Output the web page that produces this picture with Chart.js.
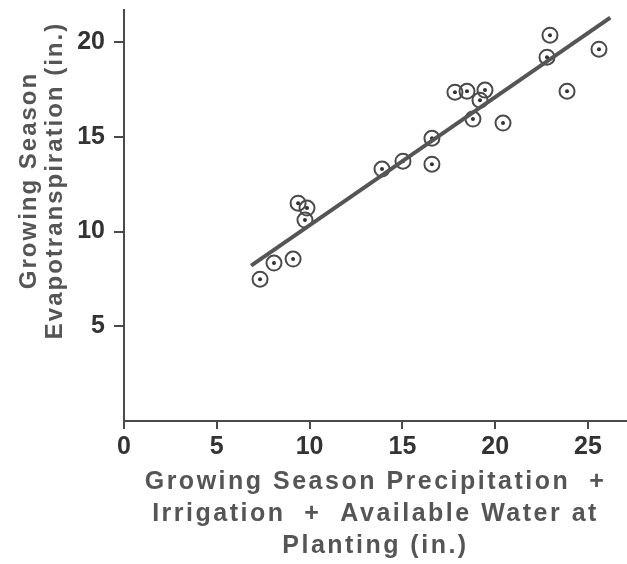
<!DOCTYPE html>
<html>
<head>
<meta charset="utf-8">
<title>Evapotranspiration vs. available water</title>
<script src="https://cdn.jsdelivr.net/npm/chart.js@4.4.1/dist/chart.umd.min.js"></script>
<style>
  body { margin: 0; background: #fff; }
  #wrap { width: 627px; height: 564px; }
</style>
</head>
<body>
<div id="wrap"><canvas id="etChart" width="627" height="564"></canvas></div>
<script>
// Observed points (inches)
const waterIn = [7.33, 8.08, 9.11, 9.38, 9.86, 9.75, 13.9, 15.03, 16.59, 16.59,
  17.83, 18.48, 19.45, 18.8, 19.18, 20.42, 22.79, 22.95, 23.87, 25.59];
const etIn = [7.49, 8.34, 8.55, 11.5, 11.24, 10.61, 13.3, 13.72, 14.93, 13.56,
  17.36, 17.41, 17.47, 15.94, 16.94, 15.73, 19.21, 20.37, 17.41, 19.63];

// Fitted line end points
const fitX = [6.85, 26.2];
const fitY = [8.2, 21.3];

const xTicks = [0, 5, 10, 15, 20, 25];
const yTicks = [5, 10, 15, 20];

const INK = '#4a4a4a';

// wide-tracked axis titles (the original lettering is spaced out)
function spaceTitle(scale, spacing, shiftY) {
  if (scale._spaced) return;
  scale._spaced = true;
  const orig = scale.drawTitle.bind(scale);
  scale.drawTitle = () => {
    const c = scale.ctx;
    c.save();
    c.letterSpacing = spacing;
    c.translate(0, shiftY);
    orig();
    c.restore();
  };
}

document.addEventListener('DOMContentLoaded', () => {
  const pts = waterIn.map((x, i) => ({ x, y: etIn[i] }));
  const fit = fitX.map((x, i) => ({ x, y: fitY[i] }));

  const ctx = document.getElementById('etChart').getContext('2d');
  new Chart(ctx, {
    type: 'scatter',
    data: {
      datasets: [
        {
          type: 'line',
          data: fit,
          borderColor: '#555',
          borderWidth: 4,
          pointRadius: 0,
          fill: false
        },
        {
          // outer ring
          data: pts,
          pointStyle: 'circle',
          pointRadius: 7.5,
          borderWidth: 2,
          borderColor: INK,
          backgroundColor: 'rgba(0,0,0,0)'
        },
        {
          // centre dot
          data: pts,
          pointStyle: 'circle',
          pointRadius: 2,
          borderWidth: 0,
          backgroundColor: '#333'
        }
      ]
    },
    options: {
      responsive: false,
      animation: false,
      layout: { autoPadding: false, padding: { top: 10, right: 0, left: 0, bottom: 0 } },
      plugins: { legend: { display: false }, tooltip: { enabled: false } },
      scales: {
        x: {
          type: 'linear',
          min: 0,
          max: 27.1,
          afterFit: s => {
            s.height = 143;
            s.paddingLeft = 0;
            s.paddingRight = 0;
            spaceTitle(s, '2.5px', 0);
          },
          afterBuildTicks: s => { s.ticks = xTicks.map(v => ({ value: v })); },
          ticks: {
            padding: 3,
            color: '#333',
            font: { family: 'Liberation Sans', size: 25, weight: 'bold' }
          },
          grid: { drawOnChartArea: false, tickLength: 8, color: INK, lineWidth: 2 },
          border: { color: INK, width: 2 },
          title: {
            display: true,
            text: ['Growing Season Precipitation  +', 'Irrigation  +  Available Water at', 'Planting (in.)'],
            color: '#555',
            padding: { top: 0, bottom: 2 },
            font: { family: 'Liberation Sans', size: 25, weight: 'bold', lineHeight: 1.28 }
          }
        },
        y: {
          type: 'linear',
          min: 0,
          max: 21.7,
          afterFit: s => {
            s.width = 124;
            s.paddingTop = 0;
            s.paddingBottom = 0;
            spaceTitle(s, '2px', -35);
          },
          afterBuildTicks: s => { s.ticks = yTicks.map(v => ({ value: v })); },
          ticks: {
            padding: 9,
            color: '#333',
            font: { family: 'Liberation Sans', size: 25, weight: 'bold' }
          },
          grid: { drawOnChartArea: false, tickLength: 10, color: INK, lineWidth: 2 },
          border: { color: INK, width: 2 },
          title: {
            display: true,
            text: ['Growing Season', 'Evapotranspiration (in.)'],
            color: '#555',
            padding: { top: 16, bottom: 0 },
            font: { family: 'Liberation Sans', size: 24, weight: 'bold', lineHeight: 1.083 }
          }
        }
      }
    }
  });
});
</script>
</body>
</html>
